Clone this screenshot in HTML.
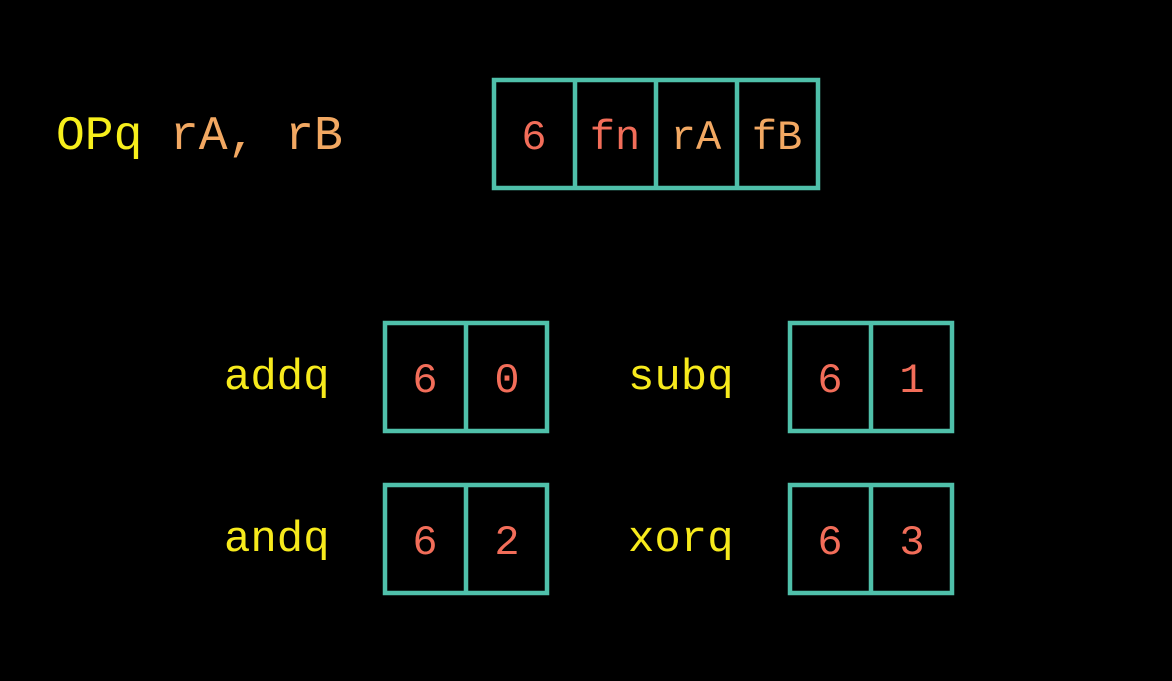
<!DOCTYPE html>
<html><head><style>
html,body{margin:0;padding:0;background:#000;width:1172px;height:681px;overflow:hidden}
svg{display:block}
text{font-family:"Liberation Mono","DejaVu Sans Mono",monospace}
</style></head><body>
<svg width="1172" height="681" viewBox="0 0 1172 681">
<rect width="1172" height="681" fill="#000"/>
<g fill="none" stroke="#4fc0aa" stroke-width="4.5">
<rect x="494" y="80" width="324" height="108"/>
<line x1="575" y1="80" x2="575" y2="188"/><line x1="656" y1="80" x2="656" y2="188"/><line x1="737" y1="80" x2="737" y2="188"/>
<rect x="385" y="323" width="162" height="108"/><line x1="466" y1="323" x2="466" y2="431"/>
<rect x="790" y="323" width="162" height="108"/><line x1="871" y1="323" x2="871" y2="431"/>
<rect x="385" y="485" width="162" height="108"/><line x1="466" y1="485" x2="466" y2="593"/>
<rect x="790" y="485" width="162" height="108"/><line x1="871" y1="485" x2="871" y2="593"/>
</g>
<text x="56" y="149" font-size="48" fill="#f7ef1c">OPq</text>
<text x="170" y="149" font-size="48" fill="#f2a862">rA, rB</text>
<g font-size="42" text-anchor="middle">
<text x="534" y="149" fill="#f26d59">6</text>
<text x="615" y="149" fill="#f26d59">fn</text>
<text x="696" y="149" fill="#f2a862">rA</text>
<text x="777" y="149" fill="#f2a862">fB</text>
<text x="425" y="392" fill="#f26d59">6</text><text x="507" y="392" fill="#f26d59">0</text>
<text x="830" y="392" fill="#f26d59">6</text><text x="912" y="392" fill="#f26d59">1</text>
<text x="425" y="554" fill="#f26d59">6</text><text x="507" y="554" fill="#f26d59">2</text>
<text x="830" y="554" fill="#f26d59">6</text><text x="912" y="554" fill="#f26d59">3</text>
</g>
<g font-size="44" fill="#f7ea1c">
<text x="224" y="389">addq</text>
<text x="628" y="389">subq</text>
<text x="224" y="551">andq</text>
<text x="628" y="551">xorq</text>
</g>
</svg>
</body></html>
